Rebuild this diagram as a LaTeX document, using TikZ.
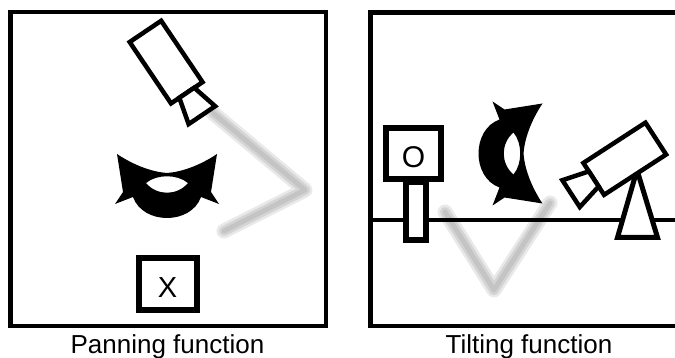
\documentclass[tikz,border=0pt]{standalone}
\usepackage{fontspec}
\setmainfont{Liberation Sans}
\begin{document}
\begin{tikzpicture}[x=1pt,y=-1pt,
  frame/.style={draw=black, line width=4.5pt},
  solid shape/.style={draw=black, fill=white, line width=#1},
  caption/.style={anchor=base, inner sep=0pt, font=\fontsize{26}{30}\selectfont},
  glyph/.style={inner sep=0pt, font=\fontsize{#1}{#1}\selectfont},
  camera/.pic={
    % body and flared lens, lens pointing along +x
    \draw[solid shape=4.5pt] (-37,-19) rectangle (37,19);
    \draw[solid shape=4.5pt] (37,-9) -- (64,-16) -- (64,16) -- (37,9) -- cycle;
  },
  turnarrow/.pic={
    % curved double-headed arrow with an open eye in the middle
    \fill[black, even odd rule]
      (-50,-26) .. controls (-32,-14) and (-14,-8) .. (0,-7)
                .. controls (14,-8) and (32,-14) .. (50,-26)
      -- (44,12) -- (52,24) -- (34,17)
      .. controls (24,45) and (-24,45) .. (-34,17)
      -- (-52,24) -- (-44,12) -- cycle
      (-21,3) .. controls (-10,-6) and (10,-6) .. (21,3)
              .. controls (10,16) and (-10,16) .. (-21,3);
  }
]
\newcommand\softray[1]{%
  \foreach \w/\o in {15/0.25,10/0.3,5/0.35}{%
    \draw[line width=\w pt, black!35, opacity=\o, line cap=round, line join=round] #1;}}

\useasboundingbox (0,0) rectangle (675,358);
\clip (0,0) rectangle (675,358);

% ---------------- panning ----------------
\draw[frame] (10.5,12) rectangle (326,326);
\coordinate (pa) at (213,113);
\coordinate (pb) at (305,190);
\coordinate (pc) at (224,231);
\softray{(pa) -- (pb) -- (pc)}
\pic[rotate=-56] (pancam) at (166.1,62.1) {camera};
\pic (panarrow) at (167,180) {turnarrow};
\draw[solid shape=6pt] (138.5,258.5) rectangle (196.5,309.5);
\node[glyph=29] (xmark) at (167.5,287.5) {X};
\node[caption] (panlabel) at (167.5,353) {Panning function};

% ---------------- tilting ----------------
\draw[frame] (370.5,12.5) rectangle (686,326);
\coordinate (ta) at (550,203);
\coordinate (tb) at (494,290);
\coordinate (tc) at (445,212);
\softray{(ta) -- (tb) -- (tc)}
\coordinate (gl) at (370.5,220.5);
\coordinate (gr) at (686,220.5);
\draw[line width=4pt] (gl) -- (gr);
\draw[solid shape=6pt] (406,182) rectangle (426,240);
\draw[solid shape=6pt] (386,128.5) rectangle (441,179.5);
\node[glyph=30] (omark) at (413.5,157) {O};
\draw[solid shape=5pt] (637,170) -- (657.5,237.5) -- (617.5,237.5) -- cycle;
\pic[rotate=213] (tiltcam) at (624.75,158.75) {camera};
\pic[rotate=-90] (tiltarrow) at (516.5,153.5) {turnarrow};
\node[caption] (tiltlabel) at (529,353) {Tilting function};
\end{tikzpicture}
\end{document}
